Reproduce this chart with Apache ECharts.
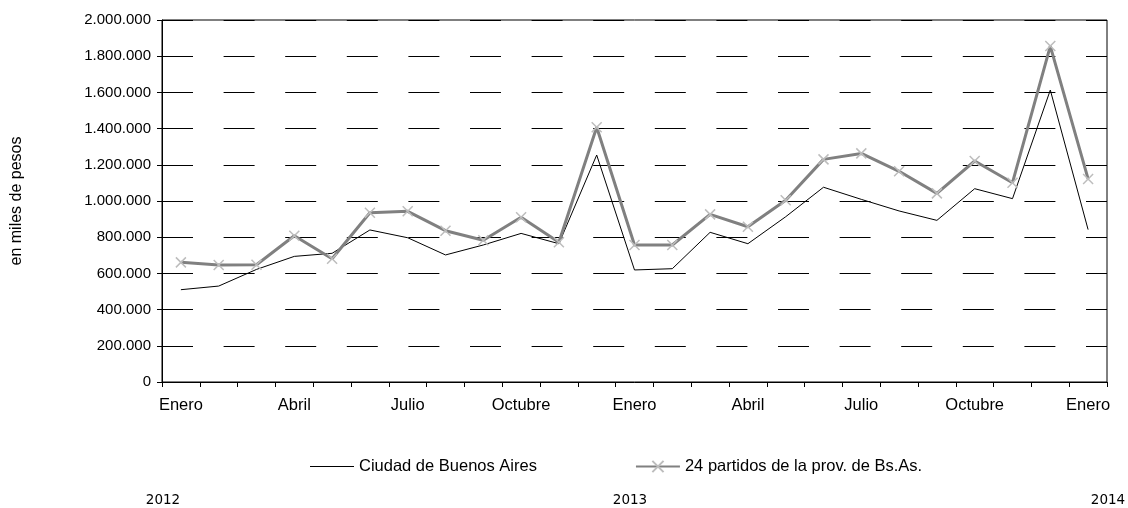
<!DOCTYPE html>
<html>
<head>
<meta charset="utf-8">
<script src="https://cdn.jsdelivr.net/npm/echarts@6/dist/echarts.min.js"></script>
<style>html,body{margin:0;padding:0;background:#fff}#c{width:1128px;height:508px}</style>
</head>
<body>
<div id="c"></div>
<script>
var months = ["Enero","Febrero","Marzo","Abril","Mayo","Junio","Julio","Agosto","Septiembre","Octubre","Noviembre","Diciembre",
              "Enero","Febrero","Marzo","Abril","Mayo","Junio","Julio","Agosto","Septiembre","Octubre","Noviembre","Diciembre",
              "Enero"];
var ciudad = [510000,530000,622000,694000,711000,840000,797000,702000,757000,821000,764000,1254000,
              619000,626000,827000,764000,913000,1076000,1009000,945000,893000,1068000,1013000,1613000,
              842000];
var partidos = [661000,646000,648000,808000,681000,935000,943000,836000,783000,910000,772000,1407000,
                757000,757000,926000,858000,1004000,1230000,1263000,1164000,1042000,1221000,1101000,1856000,
                1122000];
var years = ["2012","2013","2014"];
var seriesNames = ["Ciudad de Buenos Aires","24 partidos de la prov. de Bs.As."];
var yAxisName = "en miles de pesos";

function fmt(v){ return String(v).replace(/\B(?=(\d{3})+(?!\d))/g,'.'); }
var FONT = "'Liberation Sans', Arial, sans-serif";
var YEARFONT = "13.5px 'DejaVu Sans', sans-serif";

var chart = echarts.init(document.getElementById('c'), null, {renderer:'canvas'});
chart.setOption({
  animation:false,
  backgroundColor:'#fff',
  textStyle:{fontFamily:FONT,color:'#000'},
  grid:{left:162,right:21,top:20,bottom:126,outerBoundsMode:'none',containLabel:false,
        show:true,borderColor:'#000',borderWidth:1,backgroundColor:'transparent'},
  legend:{
    left:305, top:453, itemGap:98, itemWidth:44, itemHeight:14,
    textStyle:{fontFamily:FONT,fontSize:16.5,color:'#000'},
    data:[
      {name:seriesNames[0], icon:'path://M0,0H46V1.2H0Z', itemStyle:{color:'#000'}},
      {name:seriesNames[1]}
    ]
  },
  xAxis:{
    type:'category', data:months, boundaryGap:true,
    axisLine:{lineStyle:{color:'#000',width:1}},
    axisTick:{show:true,interval:0,length:5,lineStyle:{color:'#000'}},
    axisLabel:{interval:2,margin:15,fontSize:16.5,color:'#000',fontFamily:FONT},
    splitLine:{show:false}
  },
  yAxis:{
    type:'value', min:0, max:2000000, interval:200000,
    name:yAxisName, nameLocation:'middle', nameRotate:90, nameGap:137,
    nameTextStyle:{fontSize:16,color:'#000',fontFamily:FONT},
    axisLine:{show:true,lineStyle:{color:'#000',width:1}},
    axisTick:{show:true,length:5,lineStyle:{color:'#000'}},
    axisLabel:{margin:11,fontSize:15,color:'#000',fontFamily:FONT,formatter:fmt},
    splitLine:{show:true,lineStyle:{color:'#000',width:1,type:[31,30.6]}}
  },
  graphic:[
    {type:'text',x:163,y:500,style:{text:years[0],fill:'#000',font:YEARFONT,align:'center',verticalAlign:'middle'}},
    {type:'text',x:630,y:500,style:{text:years[1],fill:'#000',font:YEARFONT,align:'center',verticalAlign:'middle'}},
    {type:'text',x:1108,y:500,style:{text:years[2],fill:'#000',font:YEARFONT,align:'center',verticalAlign:'middle'}}
  ],
  series:[
    {
      name:seriesNames[0], type:'line', data:ciudad,
      symbol:'circle', symbolSize:2, showSymbol:false,
      lineStyle:{color:'#000',width:1},
      itemStyle:{color:'#000'},
      z:2
    },
    {
      name:seriesNames[1], type:'line', data:partidos,
      symbol:'path://M0,0L10,10M10,0L0,10', symbolSize:10,
      lineStyle:{color:'#808080',width:3},
      itemStyle:{color:'none',borderColor:'#bdbdbd',borderWidth:1.5},
      z:3
    }
  ]
});
</script>
</body>
</html>
